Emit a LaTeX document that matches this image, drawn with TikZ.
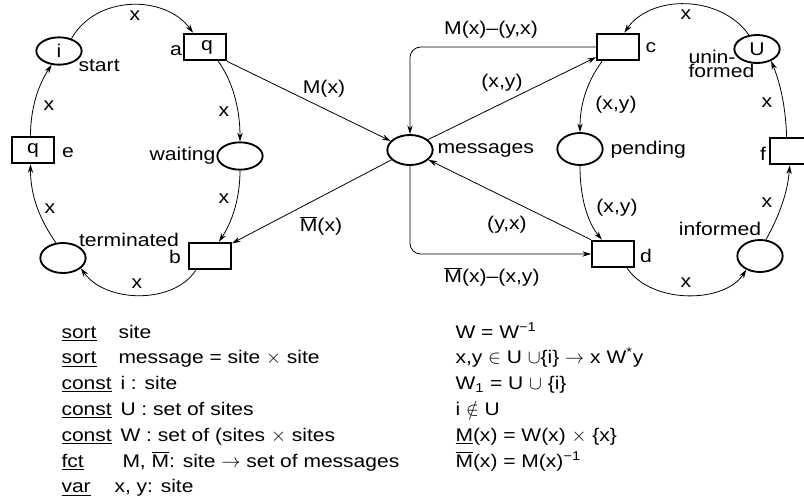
\documentclass[tikz,border=0pt]{standalone}
\usepackage{fontspec}
\setmainfont{Liberation Sans}[FakeStretch=1.15]
\usetikzlibrary{shapes.geometric,arrows.meta}

\tikzset{every picture/.style={line width=0.75pt}}
\tikzset{
  placenode/.style={draw, ellipse, line width=1.4pt, minimum width=34pt, minimum height=22.5pt, inner sep=0pt, font=\fontsize{13.8}{14}\selectfont},
  transnode/.style={draw, rectangle, line width=1.4pt, minimum width=31.5pt, minimum height=20pt, inner sep=0pt, font=\fontsize{13.8}{14}\selectfont},
  flow/.style={line width=0.6pt, -{Stealth[length=6.5pt,width=4pt]}},
  lab/.style={inner sep=0pt, font=\fontsize{13.8}{14}\selectfont},
  decl/.style={anchor=base west, inner sep=0pt, font=\fontsize{13.7}{16}\selectfont}
}
\newcommand{\Mbar}{$\overline{\mbox{M}}$}

\begin{document}
\begin{tikzpicture}[x=0.75pt,y=0.75pt,yscale=-1,xscale=1]
\useasboundingbox (0,0) rectangle (804,501);

%Places
\node[placenode, minimum height=20.5pt] (start) at (59,51) {i};
\node[placenode, minimum height=20.5pt] (waiting) at (240,156) {};
\node[placenode] (terminated) at (63,258) {};
\node[placenode] (messages) at (410,150) {};
\node[placenode, minimum height=24pt] (pending) at (580,149) {};
\node[placenode, minimum height=21pt] (uninformed) at (757,49) {U};
\node[placenode, minimum height=24pt] (informed) at (760,256) {};

%Transitions
\node[transnode] (a) at (205,47) {\hspace{3pt}q};
\node[transnode] (b) at (210,256) {};
\node[transnode] (e) at (33,150) {q\hspace{5pt}};
\node[transnode] (c) at (618,47) {};
\node[transnode] (d) at (613,254) {};
\node[transnode] (f) at (791,151) {};

%Left cycle
\draw[flow] (start.45) .. controls +(25,-44) and +(-28,-38) .. (a.130);
\draw[flow] (a.-47) .. controls +(17,24) and +(0,-27) .. (waiting.north);
\draw[flow] (waiting.south) .. controls +(0,30) and +(12,-18) .. (b.58);
\draw[flow] (b.-135) .. controls +(-22,34) and +(25,35) .. (terminated.-30);
\draw[flow] (terminated.115) .. controls +(-16,-23) and +(0,32) .. (e.-100);
\draw[flow] (e.100) .. controls +(0,-26) and +(-14,21) .. (start.-118);

%Right cycle
\draw[flow] (uninformed.120) .. controls +(-29,-41) and +(26,-38) .. (c.66);
\draw[flow] (c.-138) .. controls +(-15,20) and +(0,-28) .. (pending.north);
\draw[flow] (pending.south) .. controls +(0,35) and +(-13,-16) .. (d.128);
\draw[flow] (d.-45) .. controls +(24,36) and +(-22,34) .. (informed.-135);
\draw[flow] (informed.70) .. controls +(14,-25) and +(-2,26) .. (f.-95);
\draw[flow] (f.107) .. controls +(-1,-28) and +(10,25) .. (uninformed.-40);

%Message arcs
\draw[flow] (a.south east) -- (messages.155);
\draw[flow] (messages.208) -- (b.30);
\draw[flow] (messages.30) -- (c.205);
\draw[flow] (d.north west) -- (messages.-28);
\draw[flow, rounded corners=8pt] (c.west) -| (messages.north);
\draw[flow, rounded corners=8pt] (messages.south) |- (d.west);

% Text Node
\node[lab, anchor=west] (lstart) at (78,66) {start};
\node[lab] (la) at (176,51) {a};
\node[lab] (le) at (68,153) {e};
\node[lab, anchor=east] (lwaiting) at (216,156) {waiting};
\node[lab] (lterminated) at (129,240) {terminated};
\node[lab] (lb) at (175,257) {b};
\node[lab] (xia) at (135,16) {x};
\node[lab] (xaw) at (224,112) {x};
\node[lab] (xwb) at (224,199) {x};
\node[lab] (xei) at (49,106) {x};
\node[lab] (xte) at (50,209) {x};
\node[lab] (xbt) at (137,284) {x};
\node[lab] (lsend) at (324,89) {M(x)};
\node[lab] (lrecv) at (321,226) {\Mbar(x)};
\node[lab, anchor=west] (lmessages) at (437,150) {messages};
\node[lab] (lcback) at (491,30) {M(x)–(y,x)};
\node[lab] (lmc) at (502,83) {(x,y)};
\node[lab] (lc) at (651,48) {c};
\node[lab] (lcp) at (616,105) {(x,y)};
\node[lab, anchor=west] (lpending) at (610,150) {pending};
\node[lab] (lpd) at (617,208) {(x,y)};
\node[lab] (ldm) at (507,225) {(y,x)};
\node[lab] (ld) at (646,256) {d};
\node[lab] (ldback) at (492,277) {\Mbar(x)–(x,y)};
\node[lab] (xdi) at (686,283) {x};
\node[lab] (linformed) at (720,229) {informed};
\node[lab, anchor=west, align=left, font=\fontsize{13.8}{10.5}\selectfont] (luninformed) at (688,64) {unin-\\formed};
\node[lab] (xuc) at (686,15) {x};
\node[lab] (xfu) at (767,103) {x};
\node[lab] (xif) at (767,203) {x};
\node[lab] (lf) at (763,154) {f};

% Declarations
\node[decl] (kwa) at (61,338) {\underline{sort}};
\node[decl] (vala) at (118,338) {site};
\node[decl] (kwb) at (61,363.8) {\underline{sort}};
\node[decl] (valb) at (118,363.8) {message = site $\times$ site};
\node[decl] (kwc) at (61,389.6) {\underline{const}};
\node[decl] (valc) at (120,389.6) {i : site};
\node[decl] (kwd) at (61,415.4) {\underline{const}};
\node[decl] (vald) at (120,415.4) {U : set of sites};
\node[decl] (kwe) at (61,441.2) {\underline{const}};
\node[decl] (vale) at (120,441.2) {W : set of (sites $\times$ sites};
\node[decl] (kwf) at (61,467) {\underline{fct}};
\node[decl] (valf) at (122,467) {M, \Mbar: site $\rightarrow$ set of messages};
\node[decl] (kwg) at (61,492.8) {\underline{var}};
\node[decl] (valg) at (114,492.8) {x, y: site};

% Equations
\node[decl] (eqa) at (455,338) {W = W\textsuperscript{−1}};
\node[decl] (eqb) at (455,363.8) {x,y $\in$ U $\cup$\{i\} $\rightarrow$ x W\textsuperscript{*}y};
\node[decl] (eqc) at (455,389.6) {W\textsubscript{1} = U $\cup$ \{i\}};
\node[decl] (eqd) at (455,415.4) {i $\notin$ U};
\node[decl] (eqe) at (455,441.2) {\underline{M}(x) = W(x) $\times$ \{x\}};
\node[decl] (eqf) at (455,467) {\Mbar(x) = M(x)\textsuperscript{−1}};
\end{tikzpicture}
\end{document}
